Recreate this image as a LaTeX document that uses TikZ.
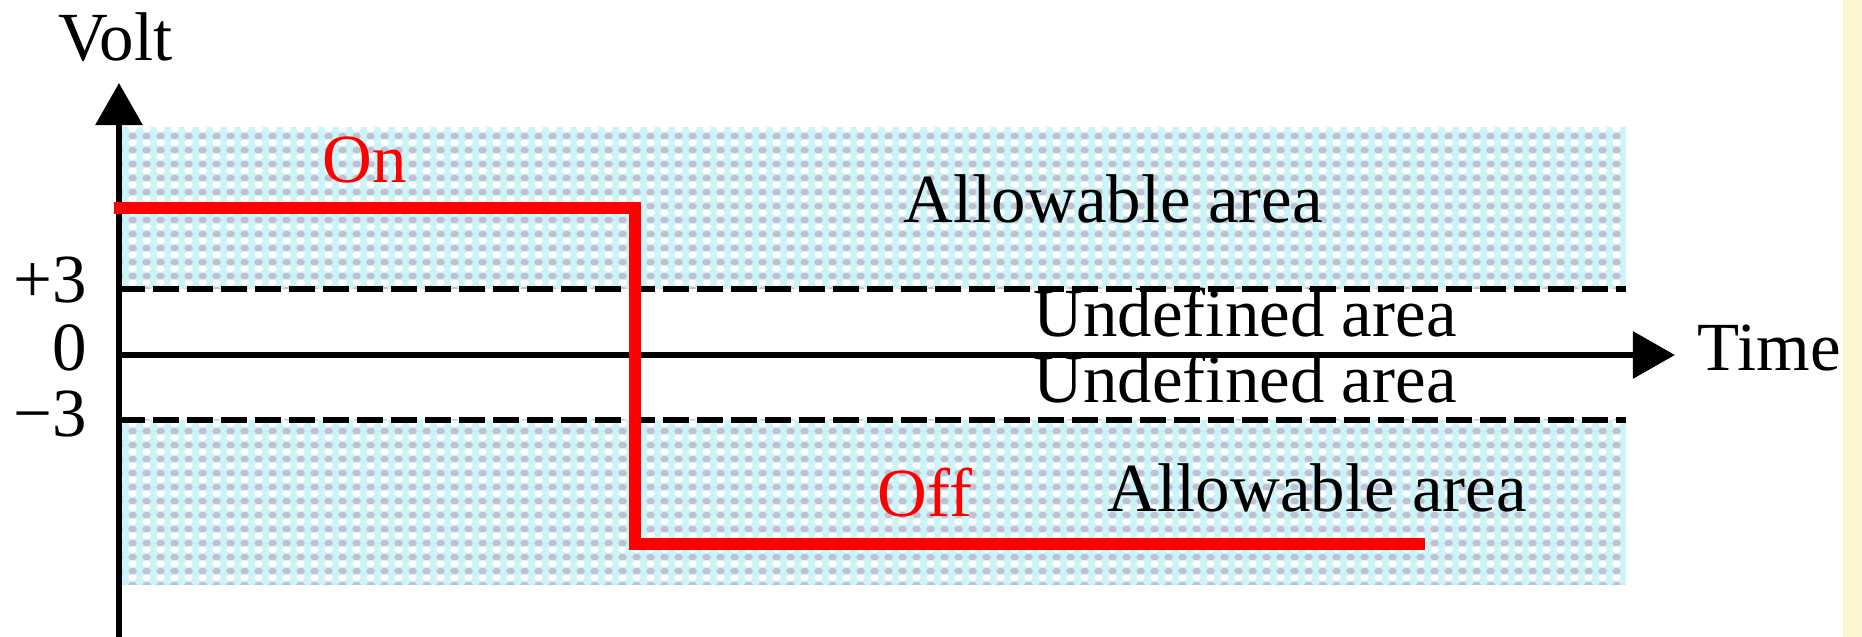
\documentclass[tikz,border=0pt]{standalone}
\usepackage{fontspec}
\setmainfont{Liberation Serif}
\usetikzlibrary{arrows.meta,patterns.meta}
\definecolor{zonecyan}{RGB}{204,244,248}
\definecolor{pointgris}{RGB}{192,192,210}
\definecolor{bandejaune}{RGB}{251,246,208}
\tikzdeclarepattern{
 name=zonepoints,
 type=colored,
 bottom left={(0pt,0pt)},
 top right={(4pt,4pt)},
 tile size={(4pt,4pt)},
 code={
  \fill[pointgris] (2pt,3pt) ellipse (1.3pt and 1pt);
  \fill[white] (2pt,1pt) ellipse (1.3pt and 1pt);
 }
}
\tikzset{
axe/.style={
 line width=1.7pt,
 -{Triangle[length=0.42cm,width=0.46cm]}
 },
seuil/.style={
 line width=1.6pt,
 dash pattern=on 0.26cm off 0.08cm
 },
signal/.style={
 draw=red,
 line width=3.4pt
 },
zone/.style={
 fill=zonecyan,
 postaction={pattern=zonepoints}
 },
etiquette/.style={
 inner sep=0pt,
 anchor=base west
 },
graduation/.style={
 inner sep=0pt,
 anchor=base east
 }
}
\begin{document}
\begin{tikzpicture}[x=0.01cm,y=-0.01cm,font=\fontsize{19.6}{23}\selectfont]
\useasboundingbox (0,0) rectangle (1862,637);
\fill[bandejaune] (1843,0) rectangle (1862,637);
% zones permises
\path[zone] (122,127) rectangle (1626,289);
\path[zone] (122,420) rectangle (1626,585);
% axes
\coordinate (origine) at (119,355);
\coordinate (bas) at (119,637);
\coordinate (haut) at (119,83);
\coordinate (fin) at (1675,355);
\draw[axe] (bas) -- (haut);
\draw[axe] (origine) -- (fin);
% seuils
\coordinate (plusG) at (119,289);
\coordinate (plusD) at (1626,289);
\coordinate (moinsG) at (119,420);
\coordinate (moinsD) at (1626,420);
\draw[seuil] (plusG) -- (plusD);
\draw[seuil] (moinsG) -- (moinsD);
% signal
\coordinate (on0) at (114,208);
\coordinate (on1) at (635,208);
\coordinate (off0) at (635,544);
\coordinate (off1) at (1425,544);
\draw[signal] (on0) -- (on1) -- (off0) -- (off1);
% textes
\node[etiquette] (volt) at (58,61) {Volt};
\node[etiquette] (temps) at (1697,371) {Time};
\node[etiquette,red] (on) at (322,183) {On};
\node[etiquette,red] (off) at (877,517) {Off};
\node[etiquette] (permisH) at (903,223) {Allowable area};
\node[etiquette] (permisB) at (1107,512) {Allowable area};
\node[etiquette] (indefH) at (1033,337) {Undefined area};
\node[etiquette] (indefB) at (1033,403) {Undefined area};
\node[graduation] (plus) at (88,303) {+3};
\node[graduation] (zero) at (88,371) {0};
\node[graduation] (moins) at (88,437) {−3};
\end{tikzpicture}
\end{document}
